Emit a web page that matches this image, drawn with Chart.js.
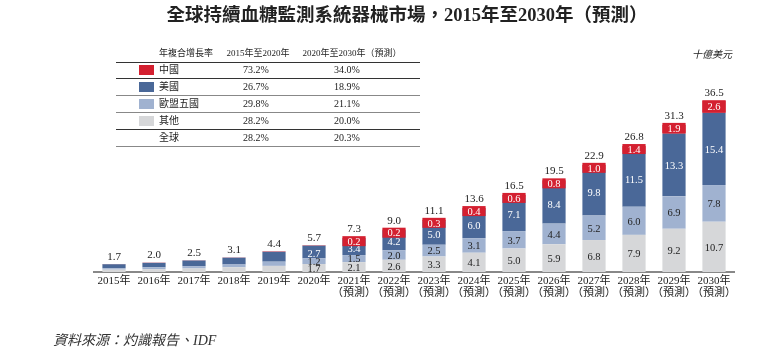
<!DOCTYPE html>
<html>
<head>
<meta charset="utf-8">
<script src="https://cdn.jsdelivr.net/npm/chart.js@4.4.1/dist/chart.umd.min.js"></script>
<style>
  body { margin:0; background:#fff; }
  #wrap { position:relative; width:759px; height:353px; overflow:hidden; font-family:"Liberation Serif","Noto Sans CJK TC",serif; color:#222; }
  #c { position:absolute; left:0; top:0; }
  .t { position:absolute; white-space:nowrap; }
  #title { left:0; width:814px; top:0px; text-align:center; font-size:18.5px; font-weight:bold; }
  #unit { left:692px; top:46px; font-size:10px; font-style:italic; }
  #src { left:53px; top:329px; font-size:14px; font-style:italic; color:#333; }
  .hl { position:absolute; left:116px; width:304px; height:0; }
  .cell { position:absolute; font-size:10px; line-height:12px; white-space:nowrap; }
  .hd { font-size:9px; }
  .c2 { width:80px; text-align:center; left:216px; }
  .c3 { width:100px; text-align:center; left:297px; }
  .sq { position:absolute; left:139px; width:15px; height:10px; }
</style>
</head>
<body>
<div id="wrap">
  <canvas id="c" width="759" height="353"></canvas>
  <div class="t" id="title">全球持續血糖監測系統器械市場，2015年至2030年（預測）</div>
  <div class="t" id="unit">十億美元</div>
  <div class="t" id="src">資料來源：灼識報告、IDF</div>
  <div id="table"></div>
</div>
<script>
// categories and values
var years = ['2015年','2016年','2017年','2018年','2019年','2020年',
  '2021年','2022年','2023年','2024年','2025年','2026年','2027年','2028年','2029年','2030年'];
var others = [0.5, 0.6, 0.75, 1.0, 1.3, 1.7, 2.1, 2.6, 3.3, 4.1, 5.0, 5.9, 6.8, 7.9, 9.2, 10.7];
var eu     = [0.3, 0.4, 0.5, 0.6, 0.9, 1.2, 1.5, 2.0, 2.5, 3.1, 3.7, 4.4, 5.2, 6.0, 6.9, 7.8];
var us     = [0.85, 0.95, 1.2, 1.45, 2.1, 2.7, 3.4, 4.2, 5.0, 6.0, 7.1, 8.4, 9.8, 11.5, 13.3, 15.4];
var china  = [0.05, 0.05, 0.05, 0.05, 0.1, 0.1, 0.2, 0.2, 0.3, 0.4, 0.6, 0.8, 1.0, 1.4, 1.9, 2.6];
var totals = [1.7, 2.0, 2.5, 3.1, 4.4, 5.7, 7.3, 9.0, 11.1, 13.6, 16.5, 19.5, 22.9, 26.8, 31.3, 36.5];

// growth table
var regions = ['中國','美國','歐盟五國','其他','全球'];
var cagr1 = ['73.2%','26.7%','29.8%','28.2%','28.2%'];
var cagr2 = ['34.0%','18.9%','21.1%','20.0%','20.3%'];
var colors = ['#d42030','#4a6898','#a0b2d0','#d6d7d9'];

var table = document.getElementById('table');
var html = '';
html += '<div class="cell hd" style="left:159px;top:47px">年複合增長率</div>';
html += '<div class="cell hd c2" style="top:47px;left:218px">2015年至2020年</div>';
html += '<div class="cell hd c3" style="top:47px;left:302px">2020年至2030年（預測）</div>';
var lines = [[62,'#333'],[78,'#333'],[95,'#888'],[112,'#888'],[129,'#333'],[146,'#888']];
lines.forEach(function(l){
  html += '<div class="hl" style="top:'+l[0]+'px;border-top:1.5px solid '+l[1]+'"></div>';
});
regions.forEach(function(r,i){
  var top = 64 + i*17;
  if (i < 4) html += '<div class="sq" style="top:'+(top+1)+'px;background:'+colors[i]+'"></div>';
  html += '<div class="cell" style="left:159px;top:'+top+'px">'+r+'</div>';
  html += '<div class="cell c2" style="top:'+top+'px">'+cagr1[i]+'</div>';
  html += '<div class="cell c3" style="top:'+top+'px">'+cagr2[i]+'</div>';
});
table.innerHTML = html;

var labelPlugin = {
  id: 'barLabels',
  afterDatasetsDraw: function(chart) {
    var ctx = chart.ctx;
    ctx.save();
    ctx.textAlign = 'center';
    ctx.textBaseline = 'middle';
    ctx.font = '10.5px "Liberation Serif", serif';
    // segment labels
    [0,1,2].forEach(function(d){
      var meta = chart.getDatasetMeta(d);
      meta.data.forEach(function(bar,i){
        if (i < 5) return;
        ctx.fillStyle = d == 2 ? '#fff' : '#222';
        var v = chart.data.datasets[d].data[i];
        var off = (d == 2 && i < 10) ? 2 : 1;
        ctx.fillText(v.toFixed(1), bar.x, (bar.y + bar.base)/2 + off);
      });
    });
    // china labels with red box
    var cm = chart.getDatasetMeta(3);
    cm.data.forEach(function(bar,i){
      if (i < 6) return;
      var w = bar.width;
      var seg = bar.base - bar.y;
      var top = seg < 9 ? bar.y - 2 : bar.y;
      var h = Math.max(10, seg);
      ctx.fillStyle = colors[0];
      ctx.fillRect(bar.x - w/2, top, w, h);
      ctx.fillStyle = '#fff';
      ctx.fillText(china[i].toFixed(1), bar.x, top + h/2 + 1);
    });
    // totals
    ctx.fillStyle = '#222';
    ctx.font = '11px "Liberation Serif", serif';
    cm.data.forEach(function(bar,i){
      var lift = (i >= 6 && bar.base - bar.y < 9) ? 9 : 7;
      ctx.fillText(totals[i].toFixed(1), bar.x, bar.y - lift);
    });
    // year labels under the axis
    var xs = chart.scales.x;
    var y0 = chart.chartArea.bottom;
    ctx.font = '11px "Liberation Serif", "Noto Sans CJK TC", serif';
    years.forEach(function(yr,i){
      var x = xs.getPixelForValue(i);
      ctx.fillText(yr, x, y0 + 9);
      if (i > 5) ctx.fillText('（預測）', x, y0 + 21);
    });
    ctx.restore();
  }
};

function ds(label, data, color) {
  return { label: label, data: data, backgroundColor: color, borderWidth: 0,
    categoryPercentage: 1, barPercentage: 0.58 };
}

new Chart(document.getElementById('c').getContext('2d'), {
  type: 'bar',
  data: {
    labels: years,
    datasets: [
      ds('其他', others, colors[3]),
      ds('歐盟五國', eu, colors[2]),
      ds('美國', us, colors[1]),
      ds('中國', china, colors[0])
    ]
  },
  options: {
    responsive: false,
    animation: false,
    layout: { padding: { left: 94, right: 25, top: 84, bottom: 73 } },
    plugins: { legend: { display: false }, tooltip: { enabled: false } },
    scales: {
      x: {
        stacked: true,
        grid: { display: false },
        border: { color: '#888', width: 2 },
        ticks: { display: false }
      },
      y: { stacked: true, display: false, min: 0, max: 40 }
    }
  },
  plugins: [labelPlugin]
});
</script>
</body>
</html>
